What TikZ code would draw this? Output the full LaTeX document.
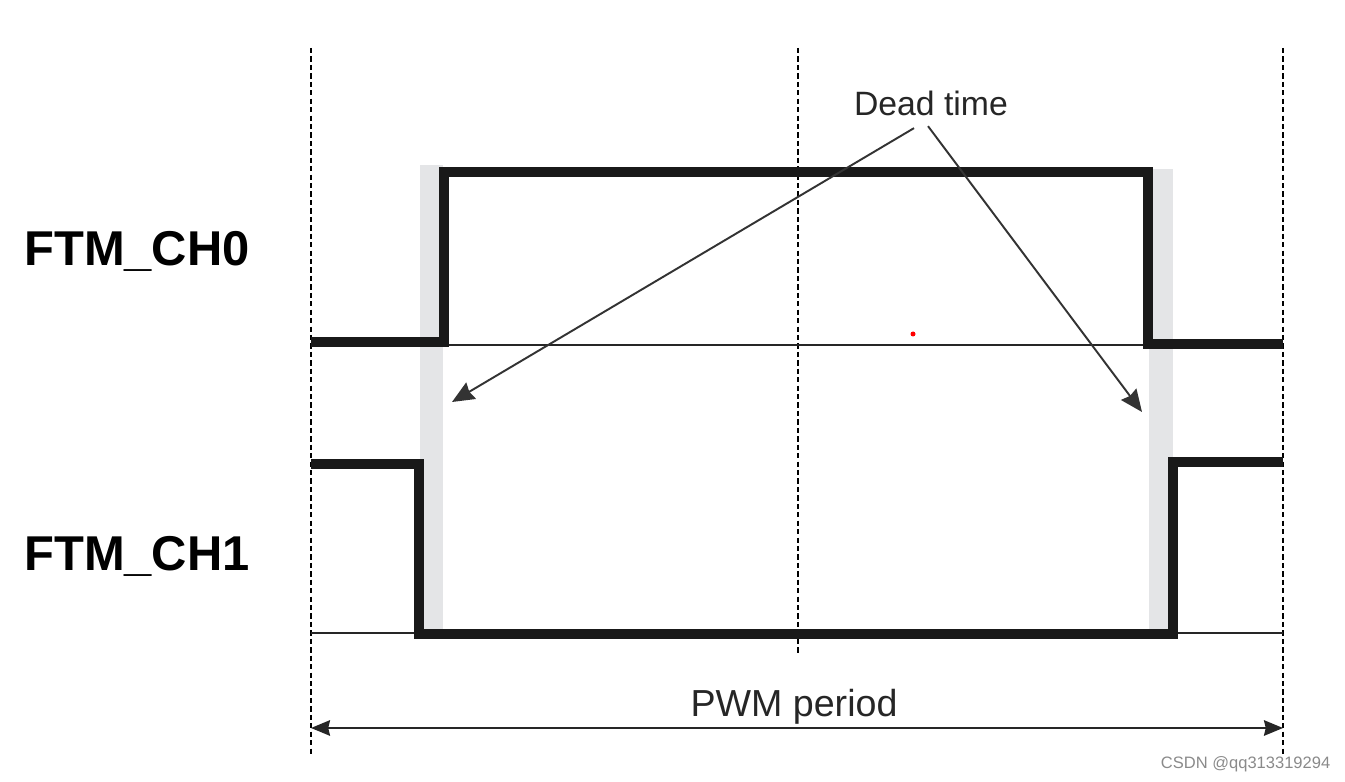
\documentclass[tikz,border=0pt]{standalone}
\usepackage{fontspec}
\setmainfont{Liberation Sans}
\usepackage{tikz}
\usetikzlibrary{positioning,arrows.meta,calc}
\definecolor{bandgray}{HTML}{E4E5E7}
\definecolor{markgray}{HTML}{8A8A8A}

\tikzset{
  wave/.style={line width=2.6pt, black!90},
  base/.style={line width=0.6pt, black!85},
  guide/.style={line width=0.45pt, dash pattern=on 1.5pt off 0.9pt},
  band/.style={fill=bandgray, draw=none},
  chlabel/.style={font=\bfseries\fontsize{13.9}{15}\selectfont, inner sep=0pt},
  dtarrow/.style={line width=0.55pt, black!80, -{Stealth[length=6.3pt, width=5.4pt, inset=0.6pt]}},
}

\begin{document}
\begin{tikzpicture}[x=0.01cm, y=-0.01cm, >={Stealth[length=5.4pt, width=4.4pt, inset=0.5pt]}]
  \useasboundingbox (0,0) rectangle (1345,782);

  % grey dead-time bands
  \fill[band] (420,165) rectangle (443,636);
  \fill[band] (1149,169) rectangle (1173,636);

  % time grid
  \draw[guide] (311,48) -- (311,755);
  \draw[guide] (798,48) -- (798,655);
  \draw[guide] (1283,48) -- (1283,755);

  % baselines
  \draw[base] (311,345) -- (1283,345);
  \draw[base] (311,633) -- (1283,633);

  % channel waveforms
  \draw[wave] (311,342) -- (444,342) -- (444,172) -- (1148,172) -- (1148,344) -- (1283,344);
  \draw[wave] (311,464) -- (419,464) -- (419,634) -- (1173,634) -- (1173,462) -- (1283,462);

  \node[chlabel] (ch0) at (137,251) {FTM\_CH0};
  \node[chlabel] (ch1) at (137,556) {FTM\_CH1};

  % dead time callout
  \node[font=\fontsize{9.6}{11}\selectfont, text=black!85, inner sep=2pt] (dead) at (931,103) {Dead time};
  \coordinate (tipL) at (452,402);
  \coordinate (tipR) at (1142,412);
  \draw[dtarrow] ($(dead.south)+(-17,5)$) -- (tipL);
  \draw[dtarrow] ($(dead.south)+(-3,3)$) -- (tipR);

  % period
  \coordinate (perL) at (311,728);
  \coordinate (perR) at (1283,728);
  \draw[base, <->] (perL) -- (perR);
  \node[font=\fontsize{10.7}{12}\selectfont, text=black!85] (pwm) at (794,707) {PWM period};

  \fill[red] (913,334) circle (2.5);
  \node[font=\fontsize{4.7}{5.5}\selectfont, text=markgray, anchor=east, inner sep=0pt] (csdn) at (1331,764) {CSDN @qq313319294};
\end{tikzpicture}
\end{document}
